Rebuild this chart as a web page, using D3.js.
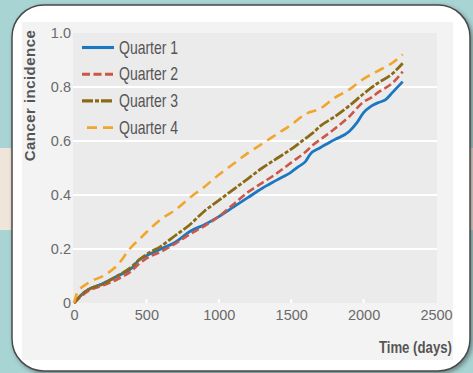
<!DOCTYPE html>
<html>
<head>
<meta charset="utf-8">
<script src="https://cdn.jsdelivr.net/npm/d3@7"></script>
<style>
html,body{margin:0;padding:0;background:#a9d4d4;}
svg{display:block;}
</style>
</head>
<body>
<svg id="chart" width="473" height="373"></svg>
<script>
// ---- data ----
const days1 = [0,50,100,200,300,400,450,500,600,700,800,900,1000,1100,1200,1300,1400,1500,1550,1600,1630,1700,1800,1900,1950,2000,2050,2100,2150,2200,2270];
const quarter1 = [0,0.03,0.05,0.072,0.10,0.13,0.16,0.175,0.20,0.225,0.265,0.29,0.32,0.355,0.39,0.425,0.455,0.485,0.505,0.525,0.55,0.575,0.605,0.635,0.665,0.705,0.728,0.742,0.752,0.78,0.82];
const days2 = [0,50,100,200,300,400,450,500,600,700,800,900,1000,1100,1200,1300,1400,1500,1600,1650,1700,1800,1900,2000,2050,2100,2200,2270];
const quarter2 = [0,0.025,0.045,0.065,0.088,0.12,0.145,0.165,0.19,0.22,0.255,0.285,0.32,0.365,0.41,0.445,0.48,0.52,0.56,0.585,0.605,0.645,0.69,0.745,0.76,0.78,0.815,0.857];
const days3 = [0,50,100,200,300,400,450,500,600,700,800,900,1000,1100,1200,1300,1400,1500,1600,1650,1700,1800,1900,2000,2100,2200,2270];
const quarter3 = [0,0.03,0.05,0.07,0.10,0.135,0.16,0.18,0.21,0.25,0.29,0.34,0.38,0.42,0.46,0.50,0.535,0.57,0.61,0.63,0.655,0.69,0.73,0.775,0.815,0.85,0.888];
const days4 = [0,20,100,200,300,400,450,500,600,700,800,900,1000,1100,1200,1300,1400,1500,1600,1700,1800,1900,2000,2100,2200,2270];
const quarter4 = [0,0.035,0.075,0.10,0.14,0.21,0.235,0.262,0.31,0.345,0.39,0.43,0.475,0.515,0.555,0.59,0.625,0.66,0.70,0.72,0.76,0.79,0.83,0.86,0.89,0.92];
const seriesNames = ["Quarter 1","Quarter 2","Quarter 3","Quarter 4"];
const xTicks = [0,500,1000,1500,2000,2500];
const yTicks = [0,0.2,0.4,0.6,0.8,1.0];
const yTickLabels = ["0","0.2","0.4","0.6","0.8","1.0"];

const series = [
  {name: seriesNames[0], days: days1, vals: quarter1, color: "#1b77c0", width: 2.8, dash: null, offset: 0},
  {name: seriesNames[1], days: days2, vals: quarter2, color: "#cc5748", width: 2.6, dash: "8,3.5", offset: 0},
  {name: seriesNames[2], days: days3, vals: quarter3, color: "#8b6a16", width: 2.8, dash: "11,2,4,2", offset: 0},
  {name: seriesNames[3], days: days4, vals: quarter4, color: "#f2a52b", width: 2.6, dash: "10,6", offset: 11}
];

const svg = d3.select("#chart");
const FONT = "'Liberation Sans', Arial, sans-serif";

// ---- background ----
svg.append("rect").attr("x",0).attr("y",0).attr("width",473).attr("height",373).attr("fill","#a9d4d4");
svg.append("rect").attr("x",0).attr("y",148).attr("width",473).attr("height",82).attr("fill","#efe5da");

const defs = svg.append("defs");
const f = defs.append("filter").attr("id","sh").attr("x","-10%").attr("y","-10%").attr("width","130%").attr("height","130%");
f.append("feDropShadow").attr("dx",2).attr("dy",2).attr("stdDeviation",2).attr("flood-color","#333").attr("flood-opacity",0.5);

svg.append("rect").attr("x",12).attr("y",5).attr("width",458).attr("height",366).attr("rx",32).attr("ry",32)
  .attr("fill","#ffffff").attr("stroke","#4a4a4a").attr("stroke-width",1.5).attr("filter","url(#sh)");
svg.append("rect").attr("x",22).attr("y",22).attr("width",431).attr("height",338).attr("fill","#f3f3f3");

// ---- scales ----
const x = d3.scaleLinear().domain([0,2500]).range([74,436]);
const y = d3.scaleLinear().domain([0,1]).range([303,33]);

svg.append("rect").attr("x",73).attr("y",y(1)).attr("width",x(2500)-73+1).attr("height",y(0)-y(1))
  .attr("fill","#ebebeb");

// gridlines
svg.append("g").selectAll("line").data(yTicks.filter(d=>d>0 && d<1)).join("line")
  .attr("x1",73).attr("x2",x(2500)+1).attr("y1",d=>y(d)).attr("y2",d=>y(d))
  .attr("stroke","#ffffff").attr("stroke-width",2);

// x ticks (white, pointing up inside)
svg.append("g").selectAll("line").data(xTicks.filter(d=>d>0 && d<2500)).join("line")
  .attr("x1",d=>x(d)).attr("x2",d=>x(d)).attr("y1",y(0)).attr("y2",y(0)-4)
  .attr("stroke","#ffffff").attr("stroke-width",2);

// axes labels via d3 axes
const xAxis = d3.axisBottom(x).tickValues(xTicks).tickFormat(d3.format("d")).tickSize(0).tickPadding(7);
const gx = svg.append("g").attr("transform",`translate(0,${y(0)})`).call(xAxis);
gx.select(".domain").remove();
gx.selectAll("text").attr("fill","#6a6a6a").style("font-family",FONT).style("font-size","14.5px");

const yAxis = d3.axisLeft(y).tickValues(yTicks).tickFormat((d,i)=>yTickLabels[i]).tickSize(0).tickPadding(3);
const gy = svg.append("g").attr("transform",`translate(74,0)`).call(yAxis);
gy.select(".domain").remove();
gy.selectAll("text").attr("fill","#6a6a6a").style("font-family",FONT).style("font-size","14.5px");

// ---- lines ----
const line = d3.line().x(d=>x(d[0])).y(d=>y(d[1])).curve(d3.curveMonotoneX);
series.forEach(s=>{
  const pts = s.days.map((d,i)=>[d,s.vals[i]]);
  svg.append("path").datum(pts).attr("d",line).attr("fill","none")
    .attr("stroke",s.color).attr("stroke-width",s.width)
    .attr("stroke-dasharray",s.dash).attr("stroke-linejoin","round");
});

// ---- legend ----
const lg = svg.append("g");
series.forEach((s,i)=>{
  const yy = 47.5 + i*26.7;
  lg.append("line").attr("x1",82).attr("x2",114).attr("y1",yy).attr("y2",yy)
    .attr("stroke",s.color).attr("stroke-width",s.width+0.3)
    .attr("stroke-dasharray",s.dash).attr("stroke-dashoffset",s.offset);
  lg.append("text").attr("transform",`translate(119,${yy+6}) scale(0.8,1)`).text(s.name)
    .attr("fill","#555").style("font-family",FONT).style("font-size","17.5px");
});

// ---- axis titles ----
svg.append("text").attr("transform","translate(35,95.5) rotate(-90)").attr("text-anchor","middle")
  .text("Cancer incidence").attr("fill","#555")
  .style("font-family",FONT).style("font-weight","bold").style("font-size","15px").style("letter-spacing","0.45px");
svg.append("text").attr("transform","translate(452,353) scale(0.8,1)").attr("text-anchor","end").text("Time (days)")
  .attr("fill","#555")
  .style("font-family",FONT).style("font-weight","bold").style("font-size","16.5px");
</script>
</body>
</html>
